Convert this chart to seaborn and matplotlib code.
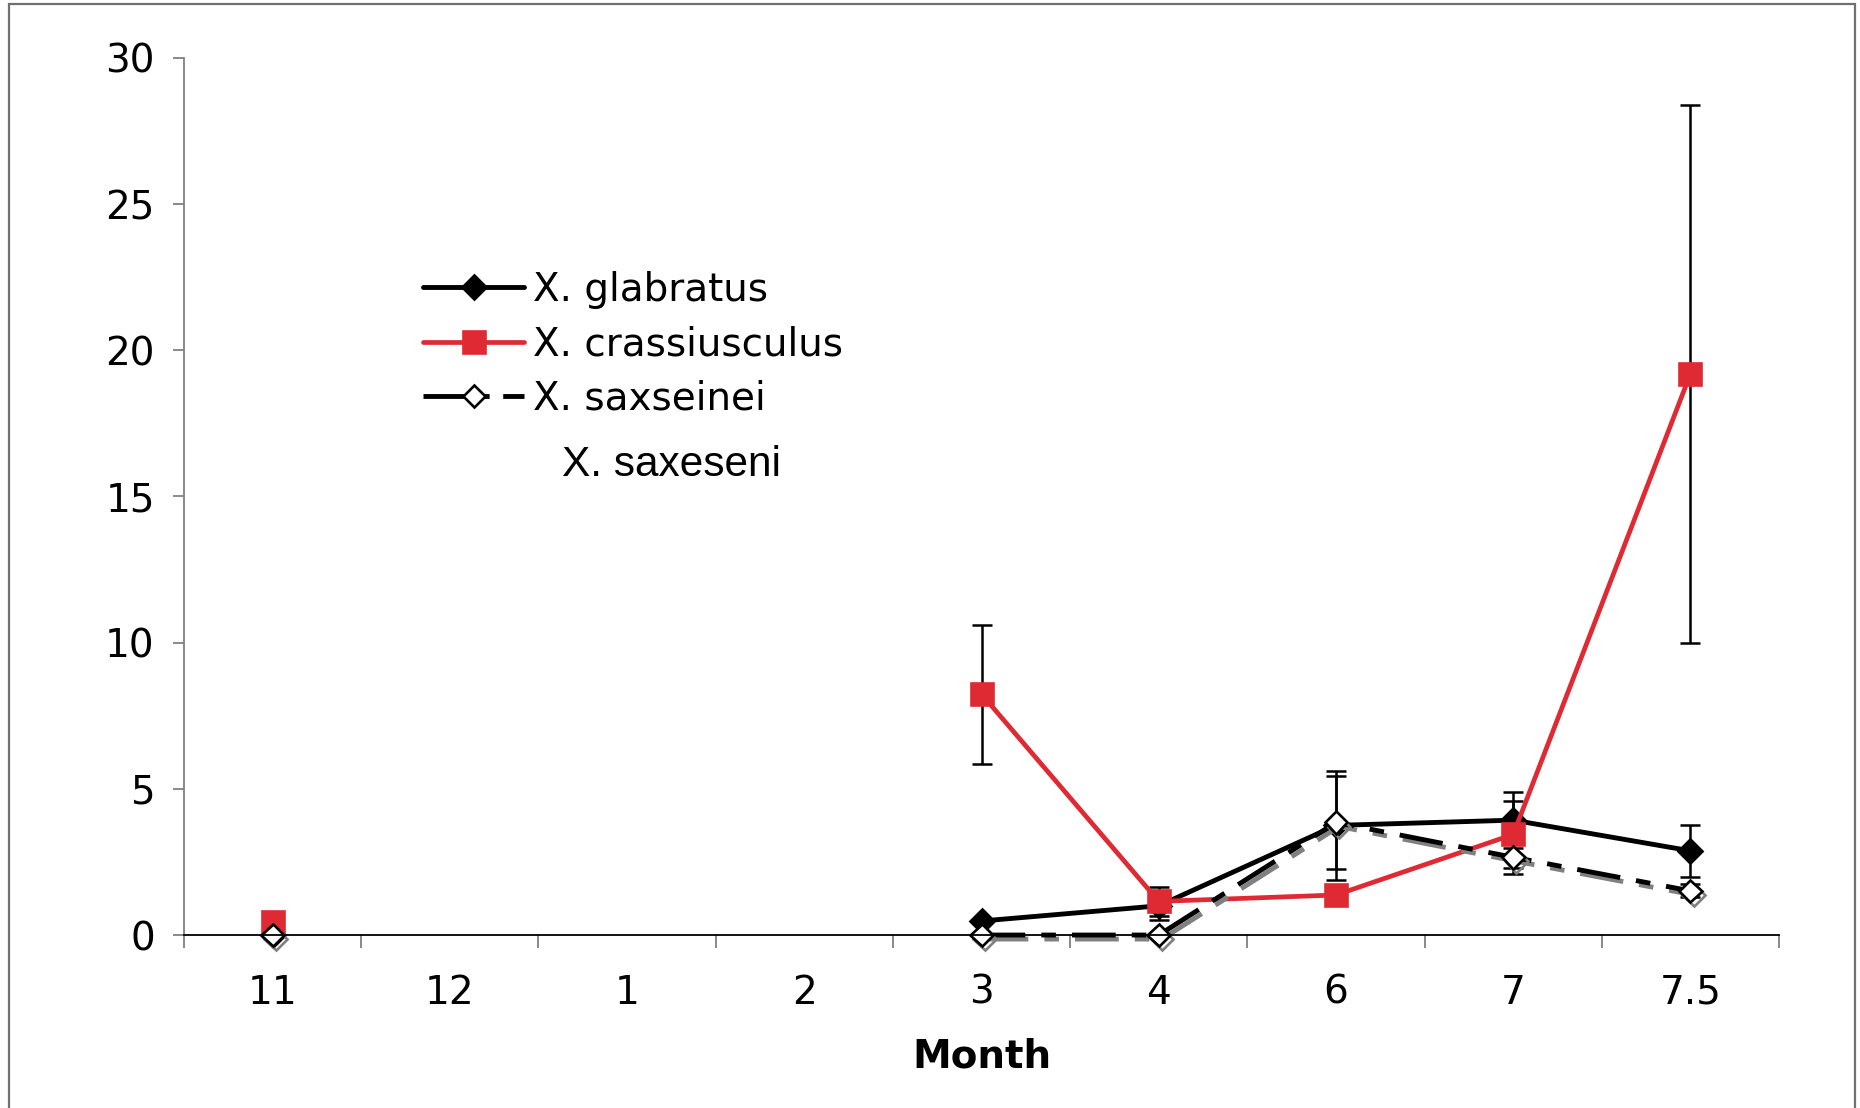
import numpy as np
import pandas as pd
import matplotlib
matplotlib.use("Agg")
import matplotlib.pyplot as plt
import matplotlib.patheffects as pe
from matplotlib.patches import Rectangle
import seaborn as sns

# ---- data ----
months = ["11", "12", "1", "2", "3", "4", "6", "7", "7.5"]
glabratus = [0.0, np.nan, np.nan, np.nan, 0.48, 1.0, 3.75, 3.93, 2.88]
glabratus_err = [0.0, np.nan, np.nan, np.nan, 0.0, 0.5, 1.87, 0.95, 0.9]
crassiusculus = [0.45, np.nan, np.nan, np.nan, 8.24, 1.15, 1.37, 3.44, 19.2]
crassiusculus_err = [0.0, np.nan, np.nan, np.nan, 2.38, 0.5, 0.0, 1.15, 9.2]
saxseinei = [0.0, np.nan, np.nan, np.nan, 0.0, 0.0, 3.85, 2.66, 1.51]
saxseinei_err = [0.0, np.nan, np.nan, np.nan, 0.0, 0.0, 1.6, 0.58, 0.22]
series_names = ["X. glabratus", "X. crassiusculus", "X. saxseinei", "X. saxeseni"]
xlabel = "Month"

sns.set_theme(style="white")
plt.rcParams["font.family"] = ["DejaVu Sans"]
plt.rcParams["text.color"] = "black"
plt.rcParams["xtick.labelcolor"] = "black"
plt.rcParams["ytick.labelcolor"] = "black"
plt.rcParams["axes.labelcolor"] = "black"

FS = 28

fig = plt.figure(figsize=(18.6, 11.08), dpi=100)
ax = fig.add_axes([0.0989, 0.1561, 0.9565 - 0.0989, 0.9477 - 0.1561])

pos = np.arange(len(months))


def make_df(vals):
    df = pd.DataFrame({"pos": pos, "value": vals})
    seg = np.cumsum(np.isnan(np.asarray(vals, dtype=float)))
    df["seg"] = seg
    return df.dropna()


red = "#DF2A33"
dash = (0, (9, 3.3, 3, 3.3))
styles = [
    dict(vals=glabratus, err=glabratus_err, color="black", marker="D", mfc="black",
         mec="black", ms=12.5, lw=3.5, ls="-", lls="-", shadow=False, z=2.1),
    dict(vals=crassiusculus, err=crassiusculus_err, color=red, marker="s", mfc=red,
         mec=red, ms=15.5, lw=3.4, ls="-", lls="-", shadow=False, z=2.2),
    dict(vals=saxseinei, err=saxseinei_err, color="black", marker="D", mfc="white",
         mec="black", ms=11.5, lw=3.5, ls=dash, lls=(0, (13.6, 2.8, 4.6, 3)),
         shadow=True, z=2.3),
]

handles = []
for name, st in zip(series_names[:3], styles):
    v = np.asarray(st["vals"], dtype=float)
    e = np.asarray(st["err"], dtype=float)
    m = ~np.isnan(v) & (np.nan_to_num(e) > 0)
    ax.errorbar(pos[m], v[m], yerr=e[m], fmt="none", ecolor="black",
                elinewidth=1.8, capsize=7, capthick=1.8, zorder=1.8, clip_on=False)
    n0 = len(ax.lines)
    sns.lineplot(data=make_df(st["vals"]), x="pos", y="value", units="seg",
                 estimator=None, ax=ax, color=st["color"], marker=st["marker"],
                 legend=False)
    for ln in ax.lines[n0:]:
        ln.set_linewidth(st["lw"])
        ln.set_linestyle(st["ls"])
        ln.set_color(st["color"])
        ln.set_marker(st["marker"])
        ln.set_markersize(st["ms"])
        ln.set_markerfacecolor(st["mfc"])
        ln.set_markeredgecolor(st["mec"])
        ln.set_markeredgewidth(1.9)
        ln.set_zorder(st["z"])
        ln.set_clip_on(False)
        if st["shadow"]:
            ln.set_path_effects([pe.SimpleLineShadow(offset=(2.2, -2.9),
                                                     shadow_color="#808080",
                                                     alpha=1.0),
                                 pe.Normal()])
    h = plt.Line2D([], [], color=st["color"], marker=st["marker"],
                   markersize=st["ms"] * 0.95 if st["marker"] == "D" else st["ms"],
                   markerfacecolor=st["mfc"], markeredgecolor=st["mec"],
                   markeredgewidth=1.9, linewidth=st["lw"], linestyle=st["lls"])
    handles.append(h)

# axes styling
ax.set_xlim(-0.5, len(months) - 0.5)
ax.set_ylim(0, 30)
ax.set_yticks(np.arange(0, 31, 5))
ax.set_yticklabels([str(t) for t in range(0, 31, 5)], fontsize=FS)
ax.set_xticks(pos)
ax.set_xticklabels(months, fontsize=FS)
ax.set_xticks(np.arange(-0.5, len(months), 1.0), minor=True)
ax.tick_params(axis="x", which="major", length=0, pad=28)
ax.tick_params(axis="x", which="minor", length=9, width=1.3, color="#808080",
               bottom=True)
ax.tick_params(axis="y", which="major", length=8, width=1.3, color="#808080",
               pad=13, left=True)
for s in ["top", "right"]:
    ax.spines[s].set_visible(False)
ax.spines["left"].set_color("#808080")
ax.spines["left"].set_linewidth(1.3)
ax.spines["bottom"].set_color("black")
ax.spines["bottom"].set_linewidth(1.3)
ax.set_xlabel(xlabel, fontsize=FS, fontweight="bold", labelpad=18.5, color="black")
ax.set_ylabel("")
ax.grid(False)

leg = ax.legend(handles=handles, labels=series_names[:3], loc="upper left",
                bbox_to_anchor=(423 / 1860, 1 - 271 / 1108),
                bbox_transform=fig.transFigure, frameon=False, fontsize=FS,
                handlelength=2.6, handletextpad=0.24, labelspacing=0.42,
                borderpad=0, borderaxespad=0)
for t in leg.get_texts():
    t.set_color("black")

fig.text(562 / 1860, 1 - 465 / 1108, series_names[3], fontsize=30.5,
         family=["Liberation Sans", "DejaVu Sans"], va="center", ha="left",
         color="black")

# outer border
fig.patches.append(Rectangle((9 / 1860, -0.02), (1855 - 9) / 1860, 1.02 - 4 / 1108,
                             transform=fig.transFigure, fill=False,
                             edgecolor="#707070", linewidth=1.6))

fig.savefig("out.png", dpi=100)
